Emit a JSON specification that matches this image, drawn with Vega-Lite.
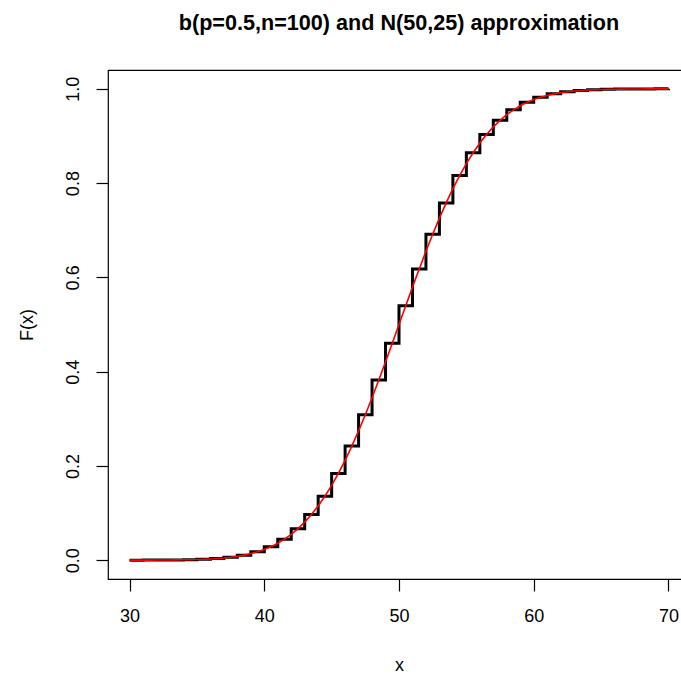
{
  "$schema": "https://vega.github.io/schema/vega-lite/v6.json",
  "autosize": "none",
  "width": 582,
  "height": 509,
  "padding": {"left": 108, "top": 70, "right": 0, "bottom": 96},
  "background": "white",
  "config": {
    "view": {"stroke": "black", "strokeWidth": 1.2},
    "font": "Liberation Sans",
    "axis": {
      "grid": false, "domain": false, "tickColor": "black", "tickSize": 12, "tickWidth": 1.2,
      "labelColor": "black", "labelFontSize": 18, "labelFont": "Liberation Sans",
      "titleColor": "black", "titleFontSize": 18, "titleFontWeight": "normal", "titleFont": "Liberation Sans"
    }
  },
  "title": {
    "text": "b(p=0.5,n=100) and N(50,25) approximation",
    "fontSize": 21.6, "fontWeight": "bold", "font": "Liberation Sans", "color": "black",
    "anchor": "middle", "baseline": "alphabetic", "offset": 18.5
  },
  "datasets": {
    "binom": [
      {"x": 30, "F": 0.0000393}, {"x": 31, "F": 0.0000917}, {"x": 32, "F": 0.000204}, {"x": 33, "F": 0.000437},
      {"x": 34, "F": 0.000895}, {"x": 35, "F": 0.001759}, {"x": 36, "F": 0.003319}, {"x": 37, "F": 0.006016},
      {"x": 38, "F": 0.010489}, {"x": 39, "F": 0.0176}, {"x": 40, "F": 0.028444}, {"x": 41, "F": 0.044313},
      {"x": 42, "F": 0.066605}, {"x": 43, "F": 0.096674}, {"x": 44, "F": 0.135627}, {"x": 45, "F": 0.184101},
      {"x": 46, "F": 0.242059}, {"x": 47, "F": 0.30865}, {"x": 48, "F": 0.382177}, {"x": 49, "F": 0.460205},
      {"x": 50, "F": 0.539795}, {"x": 51, "F": 0.617823}, {"x": 52, "F": 0.69135}, {"x": 53, "F": 0.757941},
      {"x": 54, "F": 0.815899}, {"x": 55, "F": 0.864373}, {"x": 56, "F": 0.903326}, {"x": 57, "F": 0.933395},
      {"x": 58, "F": 0.955687}, {"x": 59, "F": 0.971556}, {"x": 60, "F": 0.9824}, {"x": 61, "F": 0.989511},
      {"x": 62, "F": 0.993984}, {"x": 63, "F": 0.996681}, {"x": 64, "F": 0.998241}, {"x": 65, "F": 0.999105},
      {"x": 66, "F": 0.999563}, {"x": 67, "F": 0.999796}, {"x": 68, "F": 0.999909}, {"x": 69, "F": 0.999961},
      {"x": 70, "F": 0.999984}
    ],
    "normal": [
      {"x": 30, "F": 0.00003}, {"x": 30.5, "F": 0.00005}, {"x": 31, "F": 0.00007}, {"x": 31.5, "F": 0.00011},
      {"x": 32, "F": 0.00016}, {"x": 32.5, "F": 0.00023}, {"x": 33, "F": 0.00034}, {"x": 33.5, "F": 0.00048},
      {"x": 34, "F": 0.00069}, {"x": 34.5, "F": 0.00097}, {"x": 35, "F": 0.00135}, {"x": 35.5, "F": 0.00187},
      {"x": 36, "F": 0.00256}, {"x": 36.5, "F": 0.00347}, {"x": 37, "F": 0.00466}, {"x": 37.5, "F": 0.00621},
      {"x": 38, "F": 0.0082}, {"x": 38.5, "F": 0.01072}, {"x": 39, "F": 0.0139}, {"x": 39.5, "F": 0.01786},
      {"x": 40, "F": 0.02275}, {"x": 40.5, "F": 0.02872}, {"x": 41, "F": 0.03593}, {"x": 41.5, "F": 0.04457},
      {"x": 42, "F": 0.0548}, {"x": 42.5, "F": 0.06681}, {"x": 43, "F": 0.08076}, {"x": 43.5, "F": 0.0968},
      {"x": 44, "F": 0.11507}, {"x": 44.5, "F": 0.13567}, {"x": 45, "F": 0.15866}, {"x": 45.5, "F": 0.18406},
      {"x": 46, "F": 0.21186}, {"x": 46.5, "F": 0.24196}, {"x": 47, "F": 0.27425}, {"x": 47.5, "F": 0.30854},
      {"x": 48, "F": 0.34458}, {"x": 48.5, "F": 0.38209}, {"x": 49, "F": 0.42074}, {"x": 49.5, "F": 0.46017},
      {"x": 50, "F": 0.5}, {"x": 50.5, "F": 0.53983}, {"x": 51, "F": 0.57926}, {"x": 51.5, "F": 0.61791},
      {"x": 52, "F": 0.65542}, {"x": 52.5, "F": 0.69146}, {"x": 53, "F": 0.72575}, {"x": 53.5, "F": 0.75804},
      {"x": 54, "F": 0.78814}, {"x": 54.5, "F": 0.81594}, {"x": 55, "F": 0.84134}, {"x": 55.5, "F": 0.86433},
      {"x": 56, "F": 0.88493}, {"x": 56.5, "F": 0.9032}, {"x": 57, "F": 0.91924}, {"x": 57.5, "F": 0.93319},
      {"x": 58, "F": 0.9452}, {"x": 58.5, "F": 0.95543}, {"x": 59, "F": 0.96407}, {"x": 59.5, "F": 0.97128},
      {"x": 60, "F": 0.97725}, {"x": 60.5, "F": 0.98214}, {"x": 61, "F": 0.9861}, {"x": 61.5, "F": 0.98928},
      {"x": 62, "F": 0.9918}, {"x": 62.5, "F": 0.99379}, {"x": 63, "F": 0.99534}, {"x": 63.5, "F": 0.99653},
      {"x": 64, "F": 0.99744}, {"x": 64.5, "F": 0.99813}, {"x": 65, "F": 0.99865}, {"x": 65.5, "F": 0.99903},
      {"x": 66, "F": 0.99931}, {"x": 66.5, "F": 0.99952}, {"x": 67, "F": 0.99966}, {"x": 67.5, "F": 0.99977},
      {"x": 68, "F": 0.99984}, {"x": 68.5, "F": 0.99989}, {"x": 69, "F": 0.99993}, {"x": 69.5, "F": 0.99995},
      {"x": 70, "F": 0.99997}
    ]
  },
  "encoding": {
    "x": {
      "field": "x", "type": "quantitative",
      "scale": {"domain": [28.4, 71.6], "nice": false, "zero": false},
      "axis": {"title": "x", "values": [30, 40, 50, 60, 70], "labelPadding": 16, "labelFlush": false,
               "titleBaseline": "alphabetic", "titleY": 91, "titleX": 291}
    },
    "y": {
      "field": "F", "type": "quantitative",
      "scale": {"domain": [-0.04, 1.04], "nice": false, "zero": false},
      "axis": {"title": "F(x)", "values": [0, 0.2, 0.4, 0.6, 0.8, 1.0], "format": ".1f",
               "labelAngle": -90, "labelAlign": "center", "labelBaseline": "bottom", "labelPadding": 14, "labelFlush": false,
               "titleBaseline": "alphabetic", "titleX": -76, "titleY": 254.5, "titleAngle": -90}
    }
  },
  "layer": [
    {"data": {"name": "binom"}, "mark": {"type": "line", "interpolate": "step-after", "color": "black", "strokeWidth": 3}},
    {"data": {"name": "normal"}, "mark": {"type": "line", "color": "red", "strokeWidth": 1.6}}
  ]
}
